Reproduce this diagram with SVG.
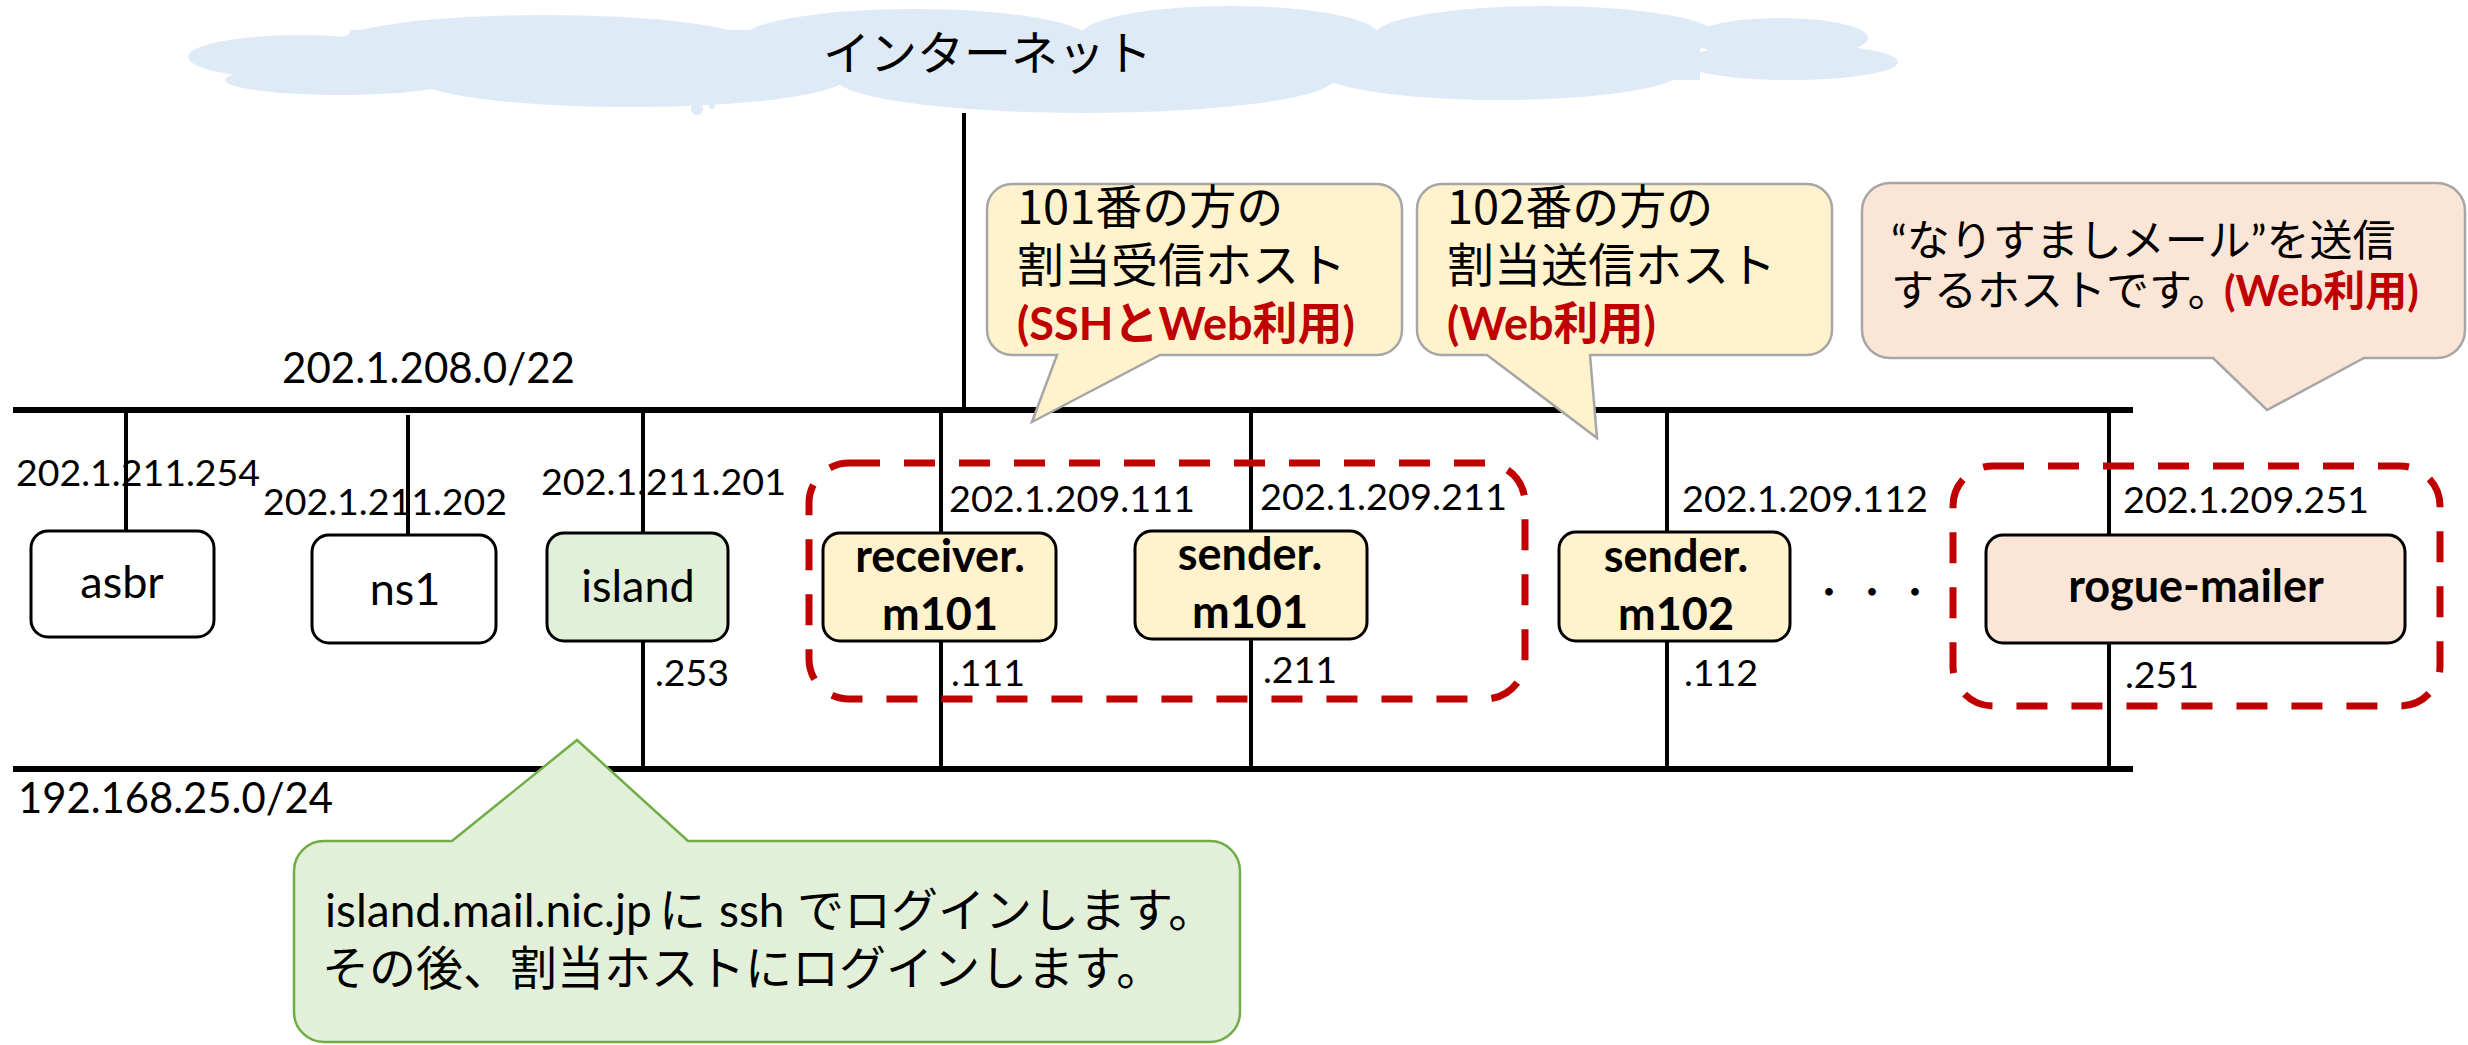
<svg xmlns="http://www.w3.org/2000/svg" width="2468" height="1045" viewBox="0 0 2468 1045">
<style>
.bus{stroke:#000;stroke-width:6;fill:none}
.link{stroke:#000;stroke-width:4;fill:none}
.node{stroke:#000;stroke-width:3}
.t{font-family:Lato,"Noto Sans CJK JP",sans-serif;font-size:42px;fill:#000}
.ip{font-size:37.5px}
.nl{font-size:45px}
.b{font-weight:bold}
.mid{text-anchor:middle}
.jp{font-family:"Noto Sans CJK JP",sans-serif;font-size:47px;fill:#000}
.lat{font-family:Lato,"Noto Sans CJK JP",sans-serif}
.red{fill:#C00000;font-weight:bold;font-family:Lato,"Noto Sans CJK JP",sans-serif}
.grp{fill:none;stroke:#C00000;stroke-width:7;stroke-dasharray:31 24}
.callout{stroke:#A6A6A6;stroke-width:2.5}
.cloud{fill:#DEEBF7}
</style>

<g id="cloud" class="cloud">
<ellipse cx="300" cy="57" rx="112" ry="22"/>
<ellipse cx="340" cy="80" rx="115" ry="15"/>
<ellipse cx="545" cy="42" rx="205" ry="27"/>
<ellipse cx="915" cy="40" rx="175" ry="31"/>
<ellipse cx="1230" cy="36" rx="150" ry="30"/>
<ellipse cx="1545" cy="36" rx="172" ry="30"/>
<ellipse cx="1780" cy="38" rx="88" ry="20"/>
<ellipse cx="1790" cy="62" rx="108" ry="18"/>
<ellipse cx="1500" cy="72" rx="180" ry="28"/>
<ellipse cx="1085" cy="78" rx="250" ry="35"/>
<ellipse cx="630" cy="78" rx="215" ry="29"/>
<rect x="350" y="30" width="1350" height="50"/>
<circle cx="697" cy="109" r="6"/>
<circle cx="712" cy="106" r="3"/>
<text class="jp" x="823" y="70">インターネット</text>
</g>

<g id="connectors">
<line class="link" x1="964" y1="113" x2="964" y2="410"/>
<line class="bus" x1="13" y1="410" x2="2133" y2="410"/>
<line class="bus" x1="13" y1="769" x2="2133" y2="769"/>
<line class="link" x1="126" y1="410" x2="126" y2="531"/>
<line class="link" x1="408" y1="415" x2="408" y2="535"/>
<line class="link" x1="643" y1="410" x2="643" y2="533"/>
<line class="link" x1="643" y1="641" x2="643" y2="769"/>
<line class="link" x1="941" y1="410" x2="941" y2="533"/>
<line class="link" x1="941" y1="641" x2="941" y2="769"/>
<line class="link" x1="1251" y1="410" x2="1251" y2="531"/>
<line class="link" x1="1251" y1="639" x2="1251" y2="769"/>
<line class="link" x1="1667" y1="410" x2="1667" y2="532"/>
<line class="link" x1="1667" y1="641" x2="1667" y2="769"/>
<line class="link" x1="2109" y1="410" x2="2109" y2="535"/>
<line class="link" x1="2109" y1="643" x2="2109" y2="769"/>
</g>

<g id="net-labels">
<text class="t" x="282" y="383" textLength="293" lengthAdjust="spacingAndGlyphs">202.1.208.0/22</text>
<text class="t" x="18" y="813" textLength="315" lengthAdjust="spacingAndGlyphs">192.168.25.0/24</text>
<text class="t ip" x="16" y="486" textLength="244" lengthAdjust="spacingAndGlyphs">202.1.211.254</text>
<text class="t ip" x="263" y="515" textLength="244" lengthAdjust="spacingAndGlyphs">202.1.211.202</text>
<text class="t ip" x="541" y="495" textLength="245" lengthAdjust="spacingAndGlyphs">202.1.211.201</text>
<text class="t ip" x="949" y="512" textLength="246" lengthAdjust="spacingAndGlyphs">202.1.209.111</text>
<text class="t ip" x="1260" y="510" textLength="247" lengthAdjust="spacingAndGlyphs">202.1.209.211</text>
<text class="t ip" x="1682" y="512" textLength="246" lengthAdjust="spacingAndGlyphs">202.1.209.112</text>
<text class="t ip" x="2123" y="513" textLength="246" lengthAdjust="spacingAndGlyphs">202.1.209.251</text>
<text class="t ip" x="655" y="686">.253</text>
<text class="t ip" x="951" y="686">.111</text>
<text class="t ip" x="1263" y="683">.211</text>
<text class="t ip" x="1684" y="686">.112</text>
<text class="t ip" x="2125" y="688">.251</text>
<text class="jp" style="font-size:36px;letter-spacing:7px" x="1811" y="606">・・・</text>
</g>

<g id="group-m101"><rect class="grp" x="809" y="463" width="716" height="236" rx="40"/></g>
<g id="group-rogue"><rect class="grp" x="1953" y="466" width="487" height="240" rx="40"/></g>

<g id="node-asbr">
<rect class="node" x="31" y="531" width="183" height="106" rx="17" fill="#FFFFFF"/>
<text class="t nl mid" x="122" y="598">asbr</text>
</g>
<g id="node-ns1">
<rect class="node" x="312" y="535" width="184" height="108" rx="17" fill="#FFFFFF"/>
<text class="t nl mid" x="405" y="605">ns1</text>
</g>
<g id="node-island">
<rect class="node" x="547" y="533" width="181" height="108" rx="17" fill="#E2F0D9"/>
<text class="t nl mid" x="638" y="602">island</text>
</g>
<g id="node-receiver-m101">
<rect class="node" x="823" y="533" width="233" height="108" rx="17" fill="#FFF2CC"/>
<text class="t nl b mid" x="940" y="572">receiver.<tspan x="940" y="630">m101</tspan></text>
</g>
<g id="node-sender-m101">
<rect class="node" x="1135" y="531" width="232" height="108" rx="17" fill="#FFF2CC"/>
<text class="t nl b mid" x="1250" y="570">sender.<tspan x="1250" y="628">m101</tspan></text>
</g>
<g id="node-sender-m102">
<rect class="node" x="1559" y="532" width="231" height="109" rx="17" fill="#FFF2CC"/>
<text class="t nl b mid" x="1676" y="572">sender.<tspan x="1676" y="630">m102</tspan></text>
</g>
<g id="node-rogue-mailer">
<rect class="node" x="1986" y="535" width="419" height="108" rx="17" fill="#FBE5D6"/>
<text class="t nl b mid" x="2196" y="602">rogue-mailer</text>
</g>

<g id="callout-101">
<path class="callout" fill="#FFF2CC" d="M1012,184 H1377 A25,25 0 0 1 1402,209 V330 A25,25 0 0 1 1377,355 H1160 L1032,422 L1057,355 H1012 A25,25 0 0 1 987,330 V209 A25,25 0 0 1 1012,184 Z"/>
<text class="jp" x="1017" y="224">101番の方の<tspan x="1017" y="282">割当受信ホスト</tspan><tspan class="red" style="font-size:45px" x="1017" y="340">(SSHとWeb利用)</tspan></text>
</g>
<g id="callout-102">
<path class="callout" fill="#FFF2CC" d="M1442,184 H1807 A25,25 0 0 1 1832,209 V330 A25,25 0 0 1 1807,355 H1590 L1597,438 L1487,355 H1442 A25,25 0 0 1 1417,330 V209 A25,25 0 0 1 1442,184 Z"/>
<text class="jp" x="1447" y="224">102番の方の<tspan x="1447" y="282">割当送信ホスト</tspan><tspan class="red" style="font-size:45px" x="1447" y="340">(Web利用)</tspan></text>
</g>
<g id="callout-rogue">
<path class="callout" fill="#FBE5D6" d="M1890,183 H2437 A28,28 0 0 1 2465,211 V330 A28,28 0 0 1 2437,358 H2364 L2267,410 L2213,358 H1890 A28,28 0 0 1 1862,330 V211 A28,28 0 0 1 1890,183 Z"/>
<text class="jp" style="font-size:43px" x="1891" y="256"><tspan class="lat">“</tspan>なりすましメール<tspan class="lat">”</tspan>を送信<tspan x="1891" y="306">するホストです。</tspan><tspan class="red" style="font-size:42px" x="2224" y="306">(Web利用)</tspan></text>
</g>
<g id="callout-island">
<path fill="#E2F0D9" stroke="#70AD47" stroke-width="2.5" d="M324,841 H452 L577,740 L688,841 H1210 A30,30 0 0 1 1240,871 V1012 A30,30 0 0 1 1210,1042 H324 A30,30 0 0 1 294,1012 V871 A30,30 0 0 1 324,841 Z"/>
<text class="jp" x="325" y="927"><tspan class="lat" style="font-size:46px">island.mail.nic.jp</tspan><tspan x="659">に</tspan><tspan class="lat" style="font-size:46px" x="719">ssh</tspan><tspan x="797">でログインします。</tspan><tspan x="322" y="985">その後、割当ホストにログインします。</tspan></text>
</g>
</svg>
